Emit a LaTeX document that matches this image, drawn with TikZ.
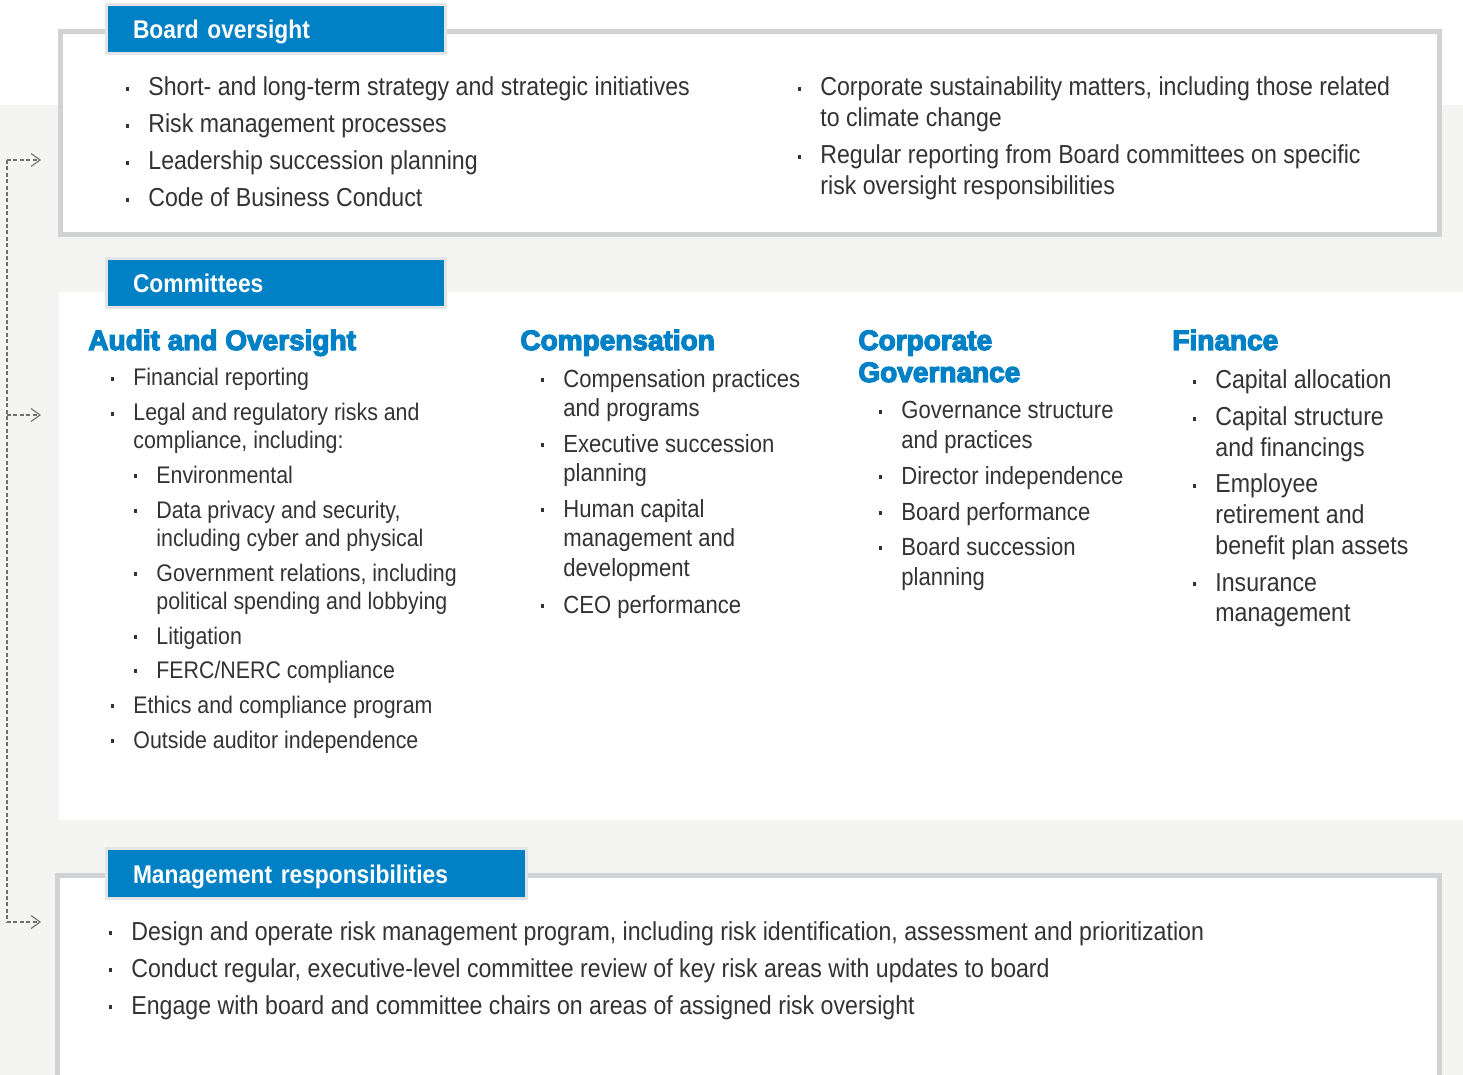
\documentclass[tikz,border=0pt]{standalone}
\usepackage{fontspec}
\setmainfont{Liberation Sans}[FakeStretch=0.89]
\newfontfamily\heavyfont{Liberation Sans}[FakeBold=4.5]
\usetikzlibrary{arrows.meta}
\definecolor{brandblue}{HTML}{0081C6}
\definecolor{ink}{HTML}{333333}
\definecolor{rim}{HTML}{D1D2D4}
\definecolor{paper}{HTML}{F4F4F2}
\definecolor{railgray}{HTML}{6F6F6F}
\newcommand\bul{\llap{\rule[2.6pt]{1.7pt}{1.7pt}\hspace{9.6pt}}}
\newcommand\lines[1]{\begin{tabular}[t]{@{}l@{}}#1\end{tabular}}
\begin{document}
\begin{tikzpicture}[
       x=0.5pt, y=-0.5pt,
       tab/.style={fill=brandblue, draw=rim!60, line width=1.5pt, outer sep=0pt,
         anchor=north west, minimum height=24.5pt, inner xsep=13.25pt,
         align=left, text=white, text height=10pt, text depth=0pt,
         font=\bfseries\fontsize{12.8}{15}\selectfont},
       itm/.style={anchor=base west, inner sep=0pt, text=ink,
         font=\fontsize{13}{15.5}\selectfont},
       head/.style={anchor=base west, align=left, inner sep=0pt, text=brandblue,
         font=\heavyfont\bfseries\fontsize{14}{16}\selectfont},
       rail/.style={draw=railgray, line width=0.55pt, dash pattern=on 2pt off 1.2pt},
       ]
      \useasboundingbox (0,0) rectangle (1463,1075);
      \clip (0,0) rectangle (1463,1075);

      % panels
      \fill[paper] (0,105) rectangle (1463,1075);
      \fill[white] (59,292) rectangle (1463,820);
      \draw[rim, line width=2.5pt, fill=white] (60,31.5) rectangle (1439.5,235);
      \draw[rim, line width=2.5pt, fill=white] (57,875.5) rectangle (1439.5,1100);

      % tabs
      \node[tab, text width=143pt] (boardtab) at (106.5,4.5) {Board oversight};
      \node[tab, text width=143pt] (committab) at (106.5,258.5) {Committees};
      \node[tab, text width=183.5pt, minimum height=25pt] (mgmttab)
        at (106.5,848.5) {Management responsibilities};

      % board oversight
      \foreach \y/\t [count=\i] in {96/Short- and long-term strategy and strategic initiatives,
          133/Risk management processes, 170/Leadership succession planning,
          207/Code of Business Conduct} {
        \node[itm] (boardl\i) at (148,\y) {\bul\t};
      }
      \foreach \y/\t [count=\i] in {
          96/{Corporate sustainability matters, including those related\\to climate change},
          164/{Regular reporting from Board committees on specific\\risk oversight responsibilities}} {
        \node[itm] (boardr\i) at (820,\y) {\bul\lines{\t}};
      }

      % committees
      \node[head] (audit) at (88,350) {Audit and Oversight};
      \node[head] (comp) at (520,350) {Compensation};
      \node[head] (gov) at (858,382) {Corporate\\Governance};
      \node[head] (fin) at (1172,350) {Finance};

      \foreach \x/\y/\t [count=\i] in {133/386/Financial reporting,
          133/421/{Legal and regulatory risks and\\compliance, including:},
          156/483/Environmental,
          156/518/{Data privacy and security,\\including cyber and physical},
          156/581/{Government relations, including\\political spending and lobbying},
          156/644/Litigation, 156/678/{FERC/NERC compliance},
          133/713/Ethics and compliance program,
          133/748/Outside auditor independence} {
        \node[itm, font=\fontsize{12}{14}\selectfont] (audit\i) at (\x,\y) {\bul\lines{\t}};
      }
      \foreach \y/\t [count=\i] in {387/{Compensation practices\\and programs},
          452/{Executive succession\\planning},
          517/{Human capital\\management and\\development}, 613/CEO performance} {
        \node[itm, font=\fontsize{12.4}{14.8}\selectfont] (comp\i) at (563,\y) {\bul\lines{\t}};
      }
      \foreach \y/\t [count=\i] in {419/{Governance structure\\and practices},
          484/Director independence, 520/Board performance,
          555/{Board succession\\planning}} {
        \node[itm, font=\fontsize{12.4}{15}\selectfont] (gov\i) at (901,\y) {\bul\lines{\t}};
      }
      \foreach \y/\t [count=\i] in {389/Capital allocation,
          426/{Capital structure\\and financings},
          493/{Employee\\retirement and\\benefit plan assets},
          591/{Insurance\\management}} {
        \node[itm, font=\fontsize{13}{15.3}\selectfont] (fin\i) at (1215,\y) {\bul\lines{\t}};
      }

      % management
      \foreach \y/\t [count=\i] in {
          940/{Design and operate risk management program, including risk identification, assessment and prioritization},
          977/{Conduct regular, executive-level committee review of key risk areas with updates to board},
          1014/Engage with board and committee chairs on areas of assigned risk oversight} {
        \node[itm] (mgmt\i) at (131,\y) {\bul\t};
      }

      % dashed rail
      \coordinate (railtop) at (7,160);
      \coordinate (railbot) at (7,922);
      \coordinate (boardin) at (41,160);
      \coordinate (committin) at (41,415);
      \coordinate (mgmtin) at (41,922);
      \draw[rail] (railtop) -- (railbot);
      \foreach \c in {boardin, committin, mgmtin} {
        \draw[rail, -{Straight Barb[length=4.5pt, width=6.5pt]}] (railtop |- \c) -- (\c);
      }
     \end{tikzpicture}
\end{document}
